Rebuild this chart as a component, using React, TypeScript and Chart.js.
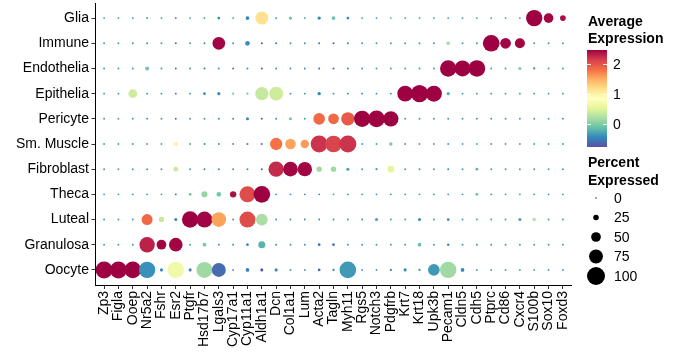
import React, { useEffect, useRef } from "react";
import { Chart, registerables } from "chart.js";

Chart.register(...registerables);

// ---------- data ----------
const genes = [
  "Zp3", "Figla", "Ooep", "Nr5a2", "Fshr", "Esr2", "Ptgfr", "Hsd17b7", "Lgals3", "Cyp17a1",
  "Cyp11a1", "Aldh1a1", "Dcn", "Col1a1", "Lum", "Acta2", "Tagln", "Myh11", "Rgs5", "Notch3",
  "Pdgfrb", "Krt7", "Krt18", "Upk3b", "Pecam1", "Cldn5", "Cdh5", "Ptprc", "Cd86", "Cxcr4",
  "S100b", "Sox10", "Foxd3",
];

// cell types, top to bottom
const cellTypes = [
  "Glia", "Immune", "Endothelia", "Epithelia", "Pericyte", "Sm. Muscle",
  "Fibroblast", "Theca", "Luteal", "Granulosa", "Oocyte",
];

// average expression (scaled) per cell type, one value per gene
const exprGlia = [-0.35, -0.35, -0.35, -0.45, -0.35, -0.65, -0.35, -0.4, -0.45, -0.35, -0.45, 1.15, -0.45, -0.05, -0.35, -0.45, -0.1, -0.45, -0.35, -0.35, -0.2, -0.35, -0.35, -0.35, -0.35, -0.35, -0.35, -0.35, -0.35, -0.35, 2.47, 2.45, 2.4];
const exprImmune = [-0.35, -0.35, -0.35, -0.45, -0.35, -0.65, -0.35, -0.45, 2.45, -0.4, -0.4, -0.7, -0.5, -0.4, -0.4, -0.55, -0.65, -0.5, -0.35, -0.35, -0.35, -0.35, -0.35, -0.35, 0.15, -0.35, -0.35, 2.47, 2.45, 2.45, -0.35, -0.35, -0.35];
const exprEndothelia = [-0.35, -0.35, -0.35, -0.05, -0.35, -0.65, -0.4, -0.5, -0.4, -0.6, -0.45, -0.7, -0.45, -0.4, -0.4, -0.55, -0.6, -0.5, -0.35, -0.35, -0.35, -0.35, -0.35, -0.35, 2.47, 2.47, 2.47, -0.35, -0.35, 0.0, -0.45, -0.35, -0.35];
const exprEpithelia = [-0.35, -0.35, 0.4, -0.4, -0.4, -0.6, -0.4, -0.45, -0.45, -0.1, -0.1, 0.35, 0.4, -0.4, -0.4, -0.45, -0.4, -0.4, -0.4, -0.4, -0.4, 2.47, 2.47, 2.47, -0.2, -0.35, -0.35, -0.35, -0.35, -0.35, -0.35, -0.35, -0.35];
const exprPericyte = [-0.35, -0.35, -0.35, -0.35, -0.35, -0.6, -0.35, -0.4, -0.4, -0.45, -0.45, -0.65, -0.45, -0.05, -0.35, 1.85, 1.85, 1.95, 2.47, 2.47, 2.47, -0.35, -0.35, -0.35, -0.35, -0.35, -0.35, -0.35, -0.35, -0.35, -0.35, -0.35, -0.35];
const exprSmMuscle = [-0.35, -0.35, -0.35, -0.35, -0.35, 0.7, -0.35, -0.45, -0.4, -0.4, -0.5, -0.55, 1.8, 1.55, 1.6, 2.2, 2.1, 2.2, -0.35, -0.35, -0.05, -0.35, -0.35, -0.35, -0.35, -0.35, -0.35, -0.35, -0.35, -0.35, -0.35, -0.35, -0.35];
const exprFibroblast = [-0.35, -0.35, -0.35, -0.35, -0.35, 0.35, -0.35, -0.5, -0.4, -0.4, -0.45, -0.6, 2.25, 2.45, 2.45, 0.15, 0.15, -0.3, -0.35, -0.35, 0.55, -0.35, -0.35, -0.35, -0.45, -0.35, -0.2, -0.35, -0.35, -0.35, -0.35, -0.35, -0.35];
const exprTheca = [-0.35, -0.35, -0.35, -0.35, -0.35, -0.7, -0.1, 0.1, -0.05, 2.4, 2.05, 2.47, -0.35, -0.35, -0.35, -0.35, -0.35, -0.35, -0.35, -0.35, -0.35, -0.35, -0.35, -0.35, -0.35, -0.35, -0.15, -0.35, -0.35, -0.35, -0.35, -0.35, -0.35];
const exprLuteal = [-0.35, -0.35, -0.35, 1.85, 0.35, -0.45, 2.47, 2.45, 1.55, -0.4, 2.05, 0.2, -0.4, -0.4, -0.4, -0.4, -0.4, -0.4, -0.4, -0.3, -0.35, -0.35, -0.4, -0.35, -0.45, -0.35, -0.35, -0.35, -0.35, -0.3, 0.25, -0.35, -0.35];
const exprGranulosa = [-0.35, -0.35, -0.35, 2.3, 2.45, 2.45, -0.35, -0.05, -0.4, -0.4, -0.45, -0.2, -0.4, -0.4, -0.4, -0.6, -0.55, -0.35, -0.35, -0.35, -0.35, -0.35, -0.1, -0.35, -0.45, -0.35, -0.35, -0.35, -0.35, -0.35, -0.35, -0.35, -0.35];
const exprOocyte = [2.47, 2.47, 2.47, -0.4, -0.45, 0.65, -0.45, 0.15, -0.6, -0.4, -0.5, -0.7, -0.5, -0.4, -0.4, -0.6, -0.5, -0.35, -0.4, -0.4, -0.45, -0.45, -0.4, -0.35, 0.15, -0.45, -0.35, -0.35, -0.35, -0.35, -0.35, -0.35, -0.35];

// percent of cells expressing, one value per gene
const pctGlia = [3, 3, 3, 3, 3, 3, 3, 3, 8, 3, 14, 70, 3, 12, 3, 12, 14, 8, 3, 3, 3, 3, 3, 3, 3, 3, 3, 3, 3, 3, 90, 50, 26];
const pctImmune = [3, 3, 3, 3, 3, 3, 3, 3, 68, 3, 20, 4, 4, 3, 3, 4, 4, 3, 3, 3, 3, 3, 3, 3, 12, 3, 3, 92, 56, 52, 3, 3, 3];
const pctEndothelia = [3, 3, 3, 16, 3, 3, 3, 4, 3, 3, 3, 4, 3, 3, 3, 4, 4, 3, 3, 3, 3, 3, 3, 3, 90, 88, 92, 3, 3, 10, 5, 3, 3];
const pctEpithelia = [3, 3, 44, 3, 3, 3, 3, 8, 10, 4, 4, 72, 76, 3, 3, 12, 3, 3, 3, 3, 3, 86, 96, 88, 12, 3, 3, 3, 3, 3, 3, 3, 3];
const pctPericyte = [3, 3, 3, 3, 3, 3, 3, 3, 3, 3, 10, 4, 3, 10, 3, 62, 56, 72, 90, 92, 84, 3, 3, 3, 3, 3, 3, 3, 3, 3, 3, 3, 3];
const pctSmMuscle = [3, 3, 3, 3, 3, 20, 3, 3, 3, 3, 4, 4, 66, 56, 42, 94, 92, 94, 3, 3, 12, 3, 3, 3, 3, 3, 3, 3, 3, 3, 3, 3, 3];
const pctFibroblast = [3, 3, 3, 3, 3, 20, 3, 3, 3, 3, 3, 4, 84, 80, 78, 24, 24, 10, 3, 5, 32, 3, 3, 3, 3, 3, 8, 3, 3, 3, 3, 3, 3];
const pctTheca = [3, 3, 3, 3, 3, 3, 8, 28, 20, 30, 88, 92, 3, 3, 3, 3, 3, 3, 3, 3, 3, 3, 3, 3, 3, 3, 8, 3, 3, 3, 3, 3, 3];
const pctLuteal = [3, 3, 3, 58, 24, 10, 90, 88, 80, 3, 88, 62, 3, 3, 3, 3, 3, 3, 3, 10, 3, 3, 10, 3, 8, 3, 3, 3, 3, 10, 12, 3, 3];
const pctGranulosa = [3, 3, 3, 84, 50, 74, 3, 14, 3, 3, 8, 34, 3, 3, 3, 8, 8, 3, 3, 3, 3, 3, 14, 3, 6, 3, 3, 3, 3, 3, 3, 3, 3];
const pctOocyte = [94, 94, 92, 90, 10, 90, 10, 88, 76, 3, 14, 10, 10, 3, 3, 8, 5, 92, 3, 3, 5, 10, 5, 62, 90, 14, 3, 3, 3, 3, 3, 3, 3];

const exprRows = [exprGlia, exprImmune, exprEndothelia, exprEpithelia, exprPericyte, exprSmMuscle, exprFibroblast, exprTheca, exprLuteal, exprGranulosa, exprOocyte];
const pctRows = [pctGlia, pctImmune, pctEndothelia, pctEpithelia, pctPericyte, pctSmMuscle, pctFibroblast, pctTheca, pctLuteal, pctGranulosa, pctOocyte];

const colorTicks = [0, 1, 2];
const sizeTicks = [0, 25, 50, 75, 100];

// ---------- styling ----------
const COLOR_MIN = -0.77;
const COLOR_MAX = 2.47;
const SPECTRAL = ["#5E4FA2", "#3288BD", "#66C2A5", "#ABDDA4", "#E6F598", "#FFFFBF", "#FEE08B", "#FDAE61", "#F46D43", "#D53E4F", "#9E0142"];
const FONT = "'Liberation Sans', Arial, Helvetica, sans-serif";

function hexToRgb(h: string) {
  return [parseInt(h.slice(1, 3), 16), parseInt(h.slice(3, 5), 16), parseInt(h.slice(5, 7), 16)];
}
function colorOf(v: number) {
  let t = (v - COLOR_MIN) / (COLOR_MAX - COLOR_MIN);
  t = Math.max(0, Math.min(1, t));
  const pos = t * (SPECTRAL.length - 1);
  const i = Math.min(Math.floor(pos), SPECTRAL.length - 2);
  const f = pos - i;
  const a = hexToRgb(SPECTRAL[i]);
  const b = hexToRgb(SPECTRAL[i + 1]);
  const c = a.map((x, k) => Math.round(x + (b[k] - x) * f));
  return `rgb(${c[0]},${c[1]},${c[2]})`;
}
function radiusOf(p: number) {
  return 0.7 + 0.083 * p;
}

const legendPlugin = {
  id: "dotLegend",
  afterDraw(chart: any) {
    const ctx = chart.ctx as CanvasRenderingContext2D;
    ctx.save();
    ctx.fillStyle = "#000";
    ctx.textBaseline = "middle";
    ctx.textAlign = "left";
    ctx.font = `bold 14px ${FONT}`;
    ctx.fillText("Average", 588, 22);
    ctx.fillText("Expression", 588, 39);
    // colorbar
    const bx = 587, bw = 20, bTop = 50, bBot = 147;
    const g = ctx.createLinearGradient(0, bBot, 0, bTop);
    SPECTRAL.forEach((c, i) => g.addColorStop(i / (SPECTRAL.length - 1), c));
    ctx.fillStyle = g;
    ctx.fillRect(bx, bTop, bw, bBot - bTop);
    ctx.font = `14px ${FONT}`;
    colorTicks.forEach((v) => {
      const y = bBot - ((v - COLOR_MIN) / (COLOR_MAX - COLOR_MIN)) * (bBot - bTop);
      ctx.strokeStyle = "rgba(255,255,255,0.9)";
      ctx.lineWidth = 1;
      ctx.beginPath();
      ctx.moveTo(bx, Math.round(y) + 0.5);
      ctx.lineTo(bx + 4, Math.round(y) + 0.5);
      ctx.moveTo(bx + bw - 4, Math.round(y) + 0.5);
      ctx.lineTo(bx + bw, Math.round(y) + 0.5);
      ctx.stroke();
      ctx.fillStyle = "#000";
      ctx.fillText(String(v), 613, y + 1);
    });
    // size legend
    ctx.font = `bold 14px ${FONT}`;
    ctx.fillText("Percent", 588, 163);
    ctx.fillText("Expressed", 588, 181);
    ctx.font = `14px ${FONT}`;
    sizeTicks.forEach((p, i) => {
      const y = 198 + i * 19.5;
      ctx.fillStyle = "#000";
      ctx.beginPath();
      ctx.arc(596, y, radiusOf(p), 0, Math.PI * 2);
      ctx.fill();
      ctx.fillText(String(p), 614, y + 1);
    });
    ctx.restore();
  },
};

export default function App() {
  const ref = useRef<HTMLCanvasElement | null>(null);
  useEffect(() => {
    const canvas = ref.current;
    if (!canvas) return;
    const points: any[] = [];
    const colors: string[] = [];
    cellTypes.forEach((ct, r) => {
      genes.forEach((gn, c) => {
        points.push({ x: c, y: cellTypes.length - 1 - r, r: radiusOf(pctRows[r][c]) });
        colors.push(colorOf(exprRows[r][c]));
      });
    });
    const tickFont = { family: FONT, size: 14 };
    const chart = new Chart(canvas, {
      type: "bubble",
      data: {
        datasets: [
          {
            data: points,
            backgroundColor: colors,
            borderWidth: 0,
            hoverRadius: 0,
            clip: false as any,
          },
        ],
      },
      options: {
        animation: false,
        responsive: false,
        devicePixelRatio: 1,
        events: [],
        layout: { autoPadding: false, padding: { top: 3, right: 117.5, bottom: 0, left: 0 } },
        plugins: { legend: { display: false }, tooltip: { enabled: false } },
        scales: {
          x: {
            type: "linear",
            position: "bottom",
            min: -0.6,
            max: genes.length - 1 + 0.6,
            afterBuildTicks: (s: any) => {
              s.ticks = genes.map((_, i) => ({ value: i }));
            },
            afterFit: (s: any) => {
              s.height = 77;
              s.paddingLeft = 0;
              s.paddingRight = 0;
            },
            ticks: {
              autoSkip: false,
              minRotation: 90,
              maxRotation: 90,
              padding: 2,
              color: "#000",
              font: tickFont,
              callback: (v: any) => genes[v as number] ?? "",
            },
            grid: { drawOnChartArea: false, drawTicks: true, tickLength: 4, color: "#333", lineWidth: 1 },
            border: { display: true, color: "#000", width: 1 },
          },
          y: {
            type: "linear",
            position: "left",
            min: -0.6,
            max: cellTypes.length - 1 + 0.6,
            afterBuildTicks: (s: any) => {
              s.ticks = cellTypes.map((_, i) => ({ value: i }));
            },
            afterFit: (s: any) => {
              s.width = 95.5;
              s.paddingTop = 0;
              s.paddingBottom = 0;
            },
            ticks: {
              autoSkip: false,
              padding: 2.5,
              color: "#000",
              font: tickFont,
              callback: (v: any) => cellTypes[cellTypes.length - 1 - (v as number)] ?? "",
            },
            grid: { drawOnChartArea: false, drawTicks: true, tickLength: 4, color: "#333", lineWidth: 1 },
            border: { display: true, color: "#000", width: 1 },
          },
        },
      },
      plugins: [legendPlugin],
    });
    return () => chart.destroy();
  }, []);
  return (
    <div style={{ position: "absolute", left: 0, top: 0, width: 689, height: 362, background: "#fff" }}>
      <canvas ref={ref} width={689} height={362} style={{ width: 689, height: 362 }} />
    </div>
  );
}
